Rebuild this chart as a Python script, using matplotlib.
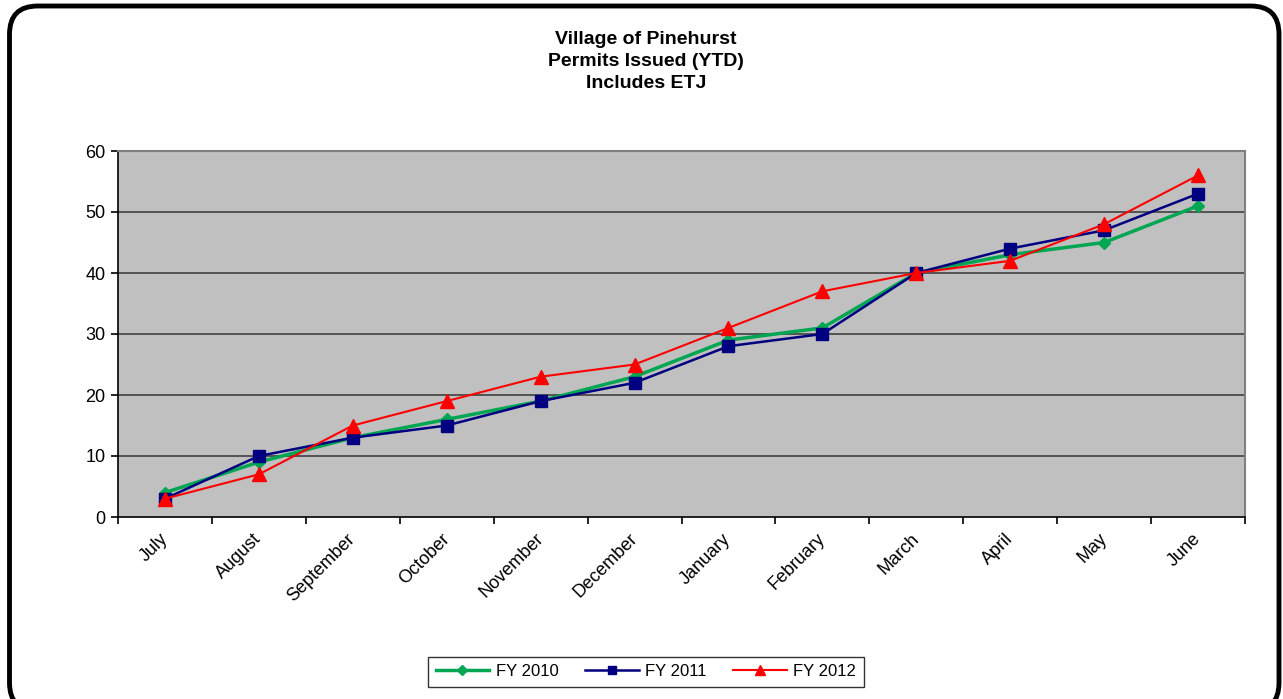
import matplotlib
matplotlib.use("Agg")
import matplotlib.pyplot as plt
from matplotlib.patches import FancyBboxPatch
import numpy as np

plt.rcParams['font.family'] = ['Liberation Sans', 'DejaVu Sans']

months = ["July", "August", "September", "October", "November", "December",
          "January", "February", "March", "April", "May", "June"]
fy2010 = [4, 9, 13, 16, 19, 23, 29, 31, 40, 43, 45, 51]
fy2011 = [3, 10, 13, 15, 19, 22, 28, 30, 40, 44, 47, 53]
fy2012 = [3, 7, 15, 19, 23, 25, 31, 37, 40, 42, 48, 56]
yticks = [0, 10, 20, 30, 40, 50, 60]
title = "Village of Pinehurst\nPermits Issued (YTD)\nIncludes ETJ"

fig = plt.figure(figsize=(12.83, 6.99), dpi=100)

# rounded outer border
border = FancyBboxPatch((9.5 / 1283, -12 / 699), (1279 - 9.5) / 1283, (699 - 6 + 12) / 699,
                        boxstyle="round,pad=0,rounding_size=0.022",
                        transform=fig.transFigure, fill=False, edgecolor='black',
                        linewidth=3.5, mutation_aspect=1283 / 699)
fig.patches.append(border)

ax = fig.add_axes([118 / 1283, 1 - 517 / 699, (1245 - 118) / 1283, (517 - 151) / 699])
ax.set_facecolor('#C0C0C0')

x = np.arange(len(months))
ax.plot(x, fy2010, color='#00A651', linewidth=2.5, marker='D', markersize=6.5,
        label='FY 2010', zorder=3)
ax.plot(x, fy2011, color='#000080', linewidth=1.8, marker='s', markersize=8.5,
        label='FY 2011', zorder=4)
ax.plot(x, fy2012, color='#FF0000', linewidth=1.5, marker='^', markersize=9.5,
        label='FY 2012', zorder=5)

ax.set_xlim(-0.5, len(months) - 0.5)
ax.set_ylim(0, 60)
ax.set_yticks(yticks)
ax.set_yticklabels([str(v) for v in yticks], fontsize=13)
for v in yticks[1:-1]:
    ax.axhline(v, color='#404040', linewidth=1.2, zorder=1)

ax.set_xticks(x)
ax.set_xticklabels(months, rotation=45, ha='right', va='center',
                   rotation_mode='anchor', fontsize=13)
ax.tick_params(axis='x', which='major', length=0, pad=14)
ax.set_xticks(np.arange(-0.5, len(months), 1.0), minor=True)
ax.tick_params(axis='x', which='minor', length=5, width=1.2, direction='out', color='black')
ax.tick_params(axis='y', length=5, width=1.2, direction='out', pad=4)

for s in ['top', 'right']:
    ax.spines[s].set_color('#808080')
    ax.spines[s].set_linewidth(1.5)
for s in ['left', 'bottom']:
    ax.spines[s].set_color('black')
    ax.spines[s].set_linewidth(1.2)

fig.text(646 / 1283, 1 - 31 / 699, title, ha='center', va='top', fontsize=14,
         fontweight='bold', linespacing=1.4)

leg = fig.legend(loc='center', bbox_to_anchor=(646 / 1283, 1 - 671.5 / 699), ncol=3,
                 fontsize=12, frameon=True, fancybox=False, edgecolor='black',
                 handlelength=3.2, columnspacing=1.6, handletextpad=0.4,
                 borderpad=0.45, markerscale=0.75)
leg.get_frame().set_linewidth(1.0)

fig.savefig('out.png', dpi=100)
